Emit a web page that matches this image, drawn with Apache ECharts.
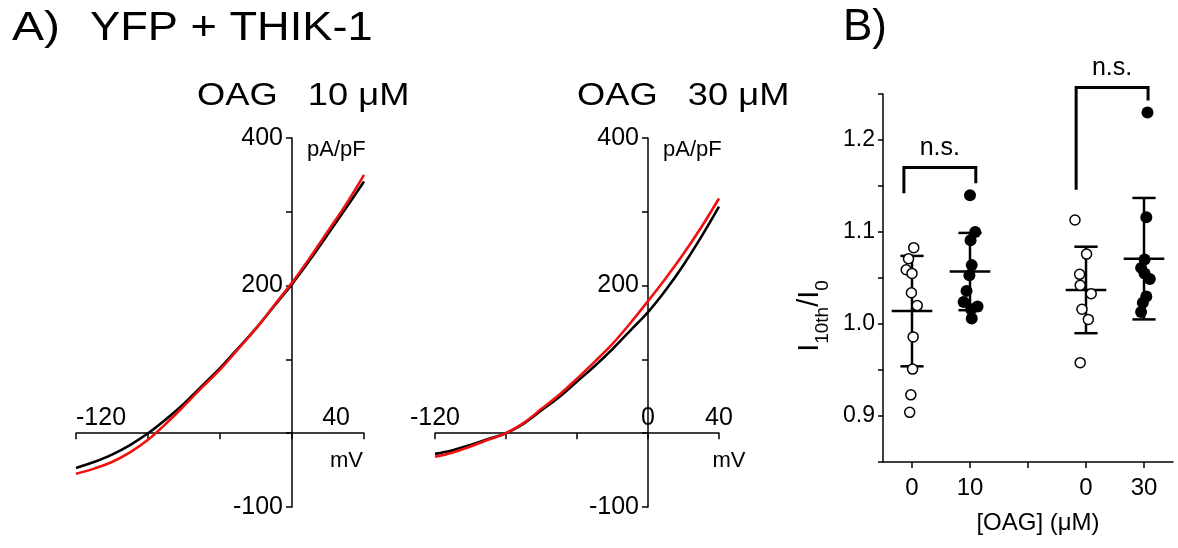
<!DOCTYPE html>
<html>
<head>
<meta charset="utf-8">
<script src="https://cdn.jsdelivr.net/npm/echarts@6/dist/echarts.min.js"></script>
<style>
  html, body { margin: 0; padding: 0; background: #fff; }
  #chart { width: 1178px; height: 548px; }
</style>
</head>
<body>
<div id="chart"></div>
<script>
// ---------- Panel A: I-V curves ----------
const voltage = [-120, -110, -100, -90, -80, -70, -60, -50, -40, -30, -20, -10, 0, 10, 20, 30, 40];
const iv10Ctrl = [-47, -39, -29, -16, 0, 19, 40, 64, 88, 115, 142, 172, 202, 235, 270, 305, 341];
const iv10OAG  = [-55, -48, -39, -26, -9, 13, 37, 62, 86, 114, 142, 173, 204, 238, 274, 310, 350];
const iv30Ctrl = [-28, -23, -16, -8, 0, 13, 31, 49, 70, 91, 114, 139, 164, 194, 228, 266, 307];
const iv30OAG  = [-32, -26, -18, -9, 0, 14, 33, 52, 74, 97, 121, 149, 179, 210, 243, 279, 318];
const ivXLabels10 = [-120, 40];
const ivXLabels30 = [-120, 0, 40];
const ivYLabels = [400, 200, -100];

// ---------- Panel B: I10th/I0 ----------
const bCategories = ['0', '10', '', '0', '30'];
const groupPos = [0, 1, 3, 4];
const ctrl10Y  = [1.083, 1.071, 1.059, 1.055, 1.034, 1.020, 0.986, 0.951, 0.923, 0.904];
const ctrl10Dx = [0.03, -0.06, -0.10, 0.00, -0.01, 0.09, 0.02, 0.01, -0.02, -0.04];
const oag10Y   = [1.140, 1.100, 1.091, 1.064, 1.053, 1.036, 1.024, 1.019, 1.016, 1.006];
const oag10Dx  = [0.00, 0.09, 0.01, 0.03, -0.01, -0.06, -0.11, 0.13, 0.02, 0.03];
const ctrl30Y  = [1.113, 1.076, 1.054, 1.042, 1.033, 1.016, 1.005, 0.958];
const ctrl30Dx = [-0.19, 0.01, -0.11, -0.10, 0.09, -0.07, 0.04, -0.10];
const oag30Y   = [1.230, 1.116, 1.070, 1.061, 1.055, 1.049, 1.030, 1.023, 1.013];
const oag30Dx  = [0.06, 0.04, 0.01, -0.05, 0.01, 0.10, 0.04, -0.02, -0.05];
const groupMean = [1.014, 1.057, 1.037, 1.071];
const groupSD   = [0.060, 0.042, 0.047, 0.066];
const bracketXL   = [-0.14, 2.83];
const bracketXR   = [1.10, 4.07];
const bracketYL   = [1.142, 1.146];
const bracketYR   = [1.153, 1.243];
const bracketYTop = [1.170, 1.257];
const bracketText = ['n.s.', 'n.s.'];

const FONT = '"Liberation Sans", Arial, sans-serif';
const BLACK = '#000000';
const RED = '#f01010';

function pairs(xs, ys) { return xs.map((x, i) => [x, ys[i]]); }
function jitter(pos, dx, ys) { return ys.map((y, i) => [pos + dx[i], y]); }

function ivXAxis(grid, labels, leftPlot) {
  return {
    gridIndex: grid, type: 'value', min: -120, max: 40, interval: 40, position: 'bottom', offset: 0,
    axisLine: { show: true, onZero: false, lineStyle: { color: BLACK, width: 1.5 } },
    axisTick: { show: true, inside: false, length: 6, lineStyle: { color: BLACK, width: 1.5 } },
    axisLabel: {
      show: true, inside: true, margin: 3, color: BLACK, fontSize: 25, fontFamily: FONT,
      showMinLabel: true, showMaxLabel: true,
      alignMinLabel: leftPlot ? 'left' : 'center',
      alignMaxLabel: leftPlot ? 'right' : 'center',
      formatter: v => labels.indexOf(v) >= 0 ? (leftPlot && v === 40 ? '{r|40}' : String(v)) : '',
      rich: { r: { fontSize: 25, fontFamily: FONT, color: BLACK, padding: [0, 14, 0, 0] } }
    },
    splitLine: { show: false },
    name: 'mV', nameLocation: 'end', nameGap: leftPlot ? -1 : 10, nameMoveOverlap: false,
    nameTextStyle: { color: BLACK, fontSize: 22, fontFamily: FONT,
      align: leftPlot ? 'right' : 'center', verticalAlign: 'top', padding: [17, 0, 0, 0] }
  };
}

function ivYAxis(grid) {
  return {
    gridIndex: grid, type: 'value', min: -100, max: 400, interval: 100, position: 'left', offset: 0,
    axisLine: { show: true, onZero: false, lineStyle: { color: BLACK, width: 1.5 } },
    axisTick: { show: true, inside: false, length: 6, lineStyle: { color: BLACK, width: 1.5 } },
    axisLabel: {
      show: true, margin: 9, color: BLACK, fontSize: 25, fontFamily: FONT,
      showMinLabel: true, showMaxLabel: true,
      formatter: v => ivYLabels.indexOf(v) >= 0 ? String(v) : ''
    },
    splitLine: { show: false },
    name: 'pA/pF', nameLocation: 'end', nameGap: -12, nameMoveOverlap: false,
    nameTextStyle: { color: BLACK, fontSize: 22, fontFamily: FONT,
      align: 'left', verticalAlign: 'middle', padding: [0, 0, 0, 15] }
  };
}

function ivSeries(x, y, xi, yi, color) {
  return {
    type: 'line', xAxisIndex: xi, yAxisIndex: yi, data: pairs(x, y),
    showSymbol: false, smooth: 0.4, silent: true,
    lineStyle: { color: color, width: 2.6 }, itemStyle: { color: color }
  };
}

const chart = echarts.init(document.getElementById('chart'), null, { renderer: 'canvas' });

const option = {
  animation: false,
  backgroundColor: '#ffffff',
  textStyle: { fontFamily: FONT, color: BLACK },
  grid: [
    { left: 76, top: 138, width: 288, height: 369, containLabel: false, outerBoundsMode: 'none' },
    { left: 435, top: 138, width: 284, height: 369, containLabel: false, outerBoundsMode: 'none' },
    { left: 883, top: 94, width: 290, height: 368, containLabel: false, outerBoundsMode: 'none' }
  ],
  xAxis: [
    ivXAxis(0, ivXLabels10, true),
    ivXAxis(1, ivXLabels30, false),
    {
      gridIndex: 2, type: 'category', data: bCategories, boundaryGap: true,
      axisLine: { show: true, onZero: false, lineStyle: { color: BLACK, width: 1.5 } },
      axisTick: { show: true, alignWithLabel: true, interval: 0, length: 6, lineStyle: { color: BLACK, width: 1.5 } },
      axisLabel: { show: true, interval: 0, margin: 14, color: BLACK, fontSize: 24, fontFamily: FONT },
      splitLine: { show: false },
      name: '[OAG] (μM)', nameLocation: 'middle', nameGap: 49, nameMoveOverlap: false,
      nameTextStyle: { color: BLACK, fontSize: 24, fontFamily: FONT, padding: [0, 0, 0, 20] }
    },
    { gridIndex: 2, type: 'value', min: -0.5, max: 4.5, show: false }
  ],
  yAxis: [
    ivYAxis(0),
    ivYAxis(1),
    {
      gridIndex: 2, type: 'value', min: 0.85, max: 1.25, interval: 0.05,
      axisLine: { show: true, onZero: false, lineStyle: { color: BLACK, width: 1.5 } },
      axisTick: { show: true, length: 5, lineStyle: { color: BLACK, width: 1.5 } },
      axisLabel: {
        show: true, margin: 8, color: BLACK, fontSize: 23, fontFamily: FONT,
        showMinLabel: true, showMaxLabel: true,
        formatter: v => { const k = Math.round(v * 100); return k % 10 === 0 ? (k / 100).toFixed(1) : ''; }
      },
      splitLine: { show: false },
      name: '{i|I}{s|10th}{i|/I}{s|0}', nameLocation: 'middle', nameRotate: 90, nameGap: 51,
      nameMoveOverlap: false,
      nameTextStyle: {
        color: BLACK, fontFamily: FONT, padding: [0, 76, 0, 0],
        rich: {
          i: { fontSize: 29, fontFamily: FONT, color: BLACK, verticalAlign: 'top', lineHeight: 37 },
          s: { fontSize: 19, fontFamily: FONT, color: BLACK, verticalAlign: 'bottom', lineHeight: 37 }
        }
      }
    }
  ],
  series: [
    ivSeries(voltage, iv10Ctrl, 0, 0, BLACK),
    ivSeries(voltage, iv10OAG, 0, 0, RED),
    ivSeries(voltage, iv30Ctrl, 1, 1, BLACK),
    ivSeries(voltage, iv30OAG, 1, 1, RED),
    {
      type: 'custom', xAxisIndex: 3, yAxisIndex: 2, clip: false, silent: true, z: 2,
      data: groupPos.map((p, i) => [p, groupMean[i], groupSD[i]]),
      renderItem: function (params, api) {
        const x = api.value(0), m = api.value(1), s = api.value(2);
        const meanHalf = 0.35, capHalf = 0.2;
        const top = api.coord([x, m + s]), bot = api.coord([x, m - s]);
        const ml = api.coord([x - meanHalf, m]), mr = api.coord([x + meanHalf, m]);
        const ctl = api.coord([x - capHalf, m + s]), ctr = api.coord([x + capHalf, m + s]);
        const cbl = api.coord([x - capHalf, m - s]), cbr = api.coord([x + capHalf, m - s]);
        const st = { stroke: BLACK, lineWidth: 2.5 };
        return {
          type: 'group', children: [
            { type: 'line', shape: { x1: top[0], y1: top[1], x2: bot[0], y2: bot[1] }, style: st },
            { type: 'line', shape: { x1: ml[0], y1: ml[1], x2: mr[0], y2: mr[1] }, style: st },
            { type: 'line', shape: { x1: ctl[0], y1: ctl[1], x2: ctr[0], y2: ctr[1] }, style: st },
            { type: 'line', shape: { x1: cbl[0], y1: cbl[1], x2: cbr[0], y2: cbr[1] }, style: st }
          ]
        };
      }
    },
    {
      type: 'custom', xAxisIndex: 3, yAxisIndex: 2, clip: false, silent: true, z: 2,
      data: bracketXL.map((xl, i) => [xl, bracketXR[i], bracketYL[i], bracketYR[i], bracketYTop[i]]),
      renderItem: function (params, api) {
        const xl = api.value(0), xr = api.value(1), yl = api.value(2), yr = api.value(3), yt = api.value(4);
        const p1 = api.coord([xl, yl]), p2 = api.coord([xl, yt]), p3 = api.coord([xr, yt]), p4 = api.coord([xr, yr]);
        return {
          type: 'group', children: [
            { type: 'polyline', shape: { points: [p1, p2, p3, p4] },
              style: { stroke: BLACK, lineWidth: 3, fill: null } },
            { type: 'text', x: (p2[0] + p3[0]) / 2, y: p2[1] - 7,
              style: { text: bracketText[params.dataIndex], fill: BLACK, font: '25px ' + FONT,
                textAlign: 'center', textVerticalAlign: 'bottom' } }
          ]
        };
      }
    },
    {
      type: 'scatter', xAxisIndex: 3, yAxisIndex: 2, z: 3, symbol: 'circle', symbolSize: 10,
      data: jitter(groupPos[0], ctrl10Dx, ctrl10Y),
      itemStyle: { color: '#ffffff', borderColor: BLACK, borderWidth: 1.5, opacity: 1 }
    },
    {
      type: 'scatter', xAxisIndex: 3, yAxisIndex: 2, z: 3, symbol: 'circle', symbolSize: 12,
      data: jitter(groupPos[1], oag10Dx, oag10Y),
      itemStyle: { color: BLACK, borderColor: BLACK, borderWidth: 0, opacity: 1 }
    },
    {
      type: 'scatter', xAxisIndex: 3, yAxisIndex: 2, z: 3, symbol: 'circle', symbolSize: 10,
      data: jitter(groupPos[2], ctrl30Dx, ctrl30Y),
      itemStyle: { color: '#ffffff', borderColor: BLACK, borderWidth: 1.5, opacity: 1 }
    },
    {
      type: 'scatter', xAxisIndex: 3, yAxisIndex: 2, z: 3, symbol: 'circle', symbolSize: 12,
      data: jitter(groupPos[3], oag30Dx, oag30Y),
      itemStyle: { color: BLACK, borderColor: BLACK, borderWidth: 0, opacity: 1 }
    }
  ],
  graphic: [
    { type: 'text', x: 12, y: 29, scaleX: 1.2, silent: true,
      style: { text: 'A)', fill: BLACK, font: '40px ' + FONT, textAlign: 'left', textVerticalAlign: 'middle' } },
    { type: 'text', x: 90, y: 29, scaleX: 1.13, silent: true,
      style: { text: 'YFP + THIK-1', fill: BLACK, font: '40px ' + FONT, textAlign: 'left', textVerticalAlign: 'middle' } },
    { type: 'text', x: 197, y: 96, scaleX: 1.17, silent: true,
      style: { text: 'OAG   10 μM', fill: BLACK, font: '31px ' + FONT, textAlign: 'left', textVerticalAlign: 'middle' } },
    { type: 'text', x: 577, y: 96, scaleX: 1.17, silent: true,
      style: { text: 'OAG   30 μM', fill: BLACK, font: '31px ' + FONT, textAlign: 'left', textVerticalAlign: 'middle' } },
    { type: 'text', x: 843, y: 28, silent: true,
      style: { text: 'B)', fill: BLACK, font: '44px ' + FONT, textAlign: 'left', textVerticalAlign: 'middle' } }
  ]
};

chart.setOption(option);

// Place the I-V axes through the origin (0 mV, 0 pA/pF), using the library's own scales.
const xOffsets = [], yOffsets = [];
for (let g = 0; g < 2; g++) {
  const xZero = chart.convertToPixel({ xAxisIndex: g }, 0);
  const xLeft = chart.convertToPixel({ xAxisIndex: g }, -120);
  const yZero = chart.convertToPixel({ yAxisIndex: g }, 0);
  const yBottom = chart.convertToPixel({ yAxisIndex: g }, -100);
  yOffsets.push(-(xZero - xLeft));
  xOffsets.push(-(yBottom - yZero));
}
chart.setOption({
  xAxis: [{ offset: xOffsets[0] }, { offset: xOffsets[1] }],
  yAxis: [{ offset: yOffsets[0] }, { offset: yOffsets[1] }]
});
</script>
</body>
</html>
